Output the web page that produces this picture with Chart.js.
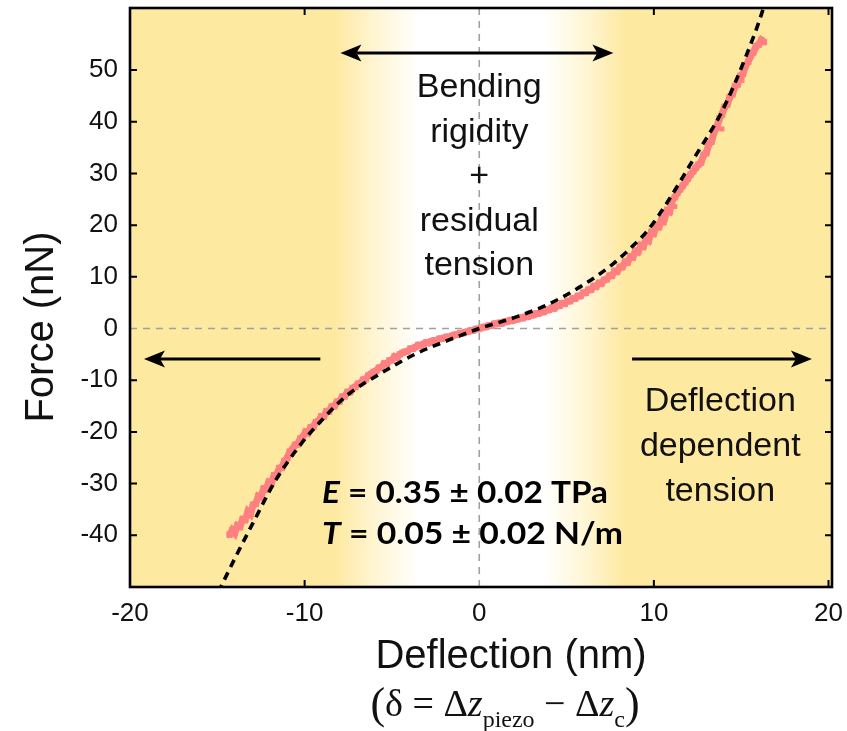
<!DOCTYPE html>
<html>
<head>
<meta charset="utf-8">
<script src="https://cdn.jsdelivr.net/npm/chart.js@4.4.1/dist/chart.umd.min.js"></script>
<style>
  html, body { margin: 0; padding: 0; background: #fff; }
  #wrap { width: 847px; height: 731px; }
</style>
</head>
<body>
<div id="wrap"><canvas id="chart" width="847" height="731"></canvas></div>
<script>
// tick labels
const xTicks = [-20, -10, 0, 10, 20];
const yTicks = [-40, -30, -20, -10, 0, 10, 20, 30, 40, 50];

// measured force curve (deflection nm, force nN)
const measuredX = [
  -14.3, -14.15, -14.0, -13.85, -13.7, -13.55, -13.4, -13.25, -13.1, -12.95, -12.8, -12.65, -12.5, -12.35,
  -12.2, -12.05, -11.9, -11.75, -11.6, -11.45, -11.3, -11.15, -11.0, -10.85, -10.7, -10.55, -10.4, -10.25,
  -10.1, -9.95, -9.8, -9.65, -9.5, -9.35, -9.2, -9.05, -8.9, -8.75, -8.6, -8.45, -8.3, -8.15, -8.0, -7.85,
  -7.7, -7.55, -7.4, -7.25, -7.1, -6.95, -6.8, -6.65, -6.5, -6.35, -6.2, -6.05, -5.9, -5.75, -5.6, -5.45,
  -5.3, -5.15, -5.0, -4.85, -4.7, -4.55, -4.4, -4.25, -4.1, -3.95, -3.8, -3.65, -3.5, -3.35, -3.2, -3.05,
  -2.9, -2.75, -2.6, -2.45, -2.3, -2.15, -2.0, -1.85, -1.7, -1.55, -1.4, -1.25, -1.1, -0.95, -0.8, -0.65,
  -0.5, -0.35, -0.2, -0.05,
  0.1, 0.25, 0.4, 0.55, 0.7, 0.85, 1.0, 1.15, 1.3, 1.45, 1.6, 1.75, 1.9, 2.05, 2.2, 2.35, 2.5, 2.65, 2.8,
  2.95, 3.1, 3.25, 3.4, 3.55, 3.7, 3.85, 4.0, 4.15, 4.3, 4.45, 4.6, 4.75, 4.9, 5.05, 5.2, 5.35, 5.5, 5.65,
  5.8, 5.95, 6.1, 6.25, 6.4, 6.55, 6.7, 6.85, 7.0, 7.15, 7.3, 7.45, 7.6, 7.75, 7.9, 8.05, 8.2, 8.35, 8.5,
  8.65, 8.8, 8.95, 9.1, 9.25, 9.4, 9.55, 9.7, 9.85, 10.0, 10.15, 10.3, 10.45, 10.6, 10.75, 10.9, 11.05,
  11.2, 11.35, 11.5, 11.65, 11.8, 11.95, 12.1, 12.25, 12.4, 12.55, 12.7, 12.85, 13.0, 13.15, 13.3, 13.45,
  13.6, 13.75, 13.9, 14.05, 14.2, 14.35, 14.5, 14.65, 14.8, 14.95, 15.1, 15.25, 15.4, 15.55, 15.7, 15.85,
  16.0, 16.15, 16.3
];
const measuredF = [
  -39.9, -39.0, -39.6, -38.1, -38.3, -36.9, -37.0, -35.4, -35.9, -34.1, -33.9, -32.4, -32.6, -31.0,
  -31.1, -29.7, -29.9, -28.4, -28.3, -27.0, -26.9, -25.6, -25.1, -23.8, -23.4, -22.5, -22.4, -21.3,
  -21.0, -20.0, -20.2, -19.1, -19.0, -18.1, -17.9, -17.0, -17.0, -16.0, -16.0, -15.1, -15.0, -14.2, -14.1, -13.2,
  -13.1, -12.3, -12.3, -11.5, -11.3, -10.7, -10.6, -9.9, -9.8, -9.1, -8.8, -8.4, -8.2, -7.6, -7.5, -6.8,
  -6.9, -6.2, -6.1, -5.4, -5.6, -5.0, -4.7, -4.5, -4.4, -3.9, -3.9, -3.6, -3.2, -3.3, -3.0, -2.7,
  -2.8, -2.5, -2.3, -2.4, -2.0, -2.0, -1.8, -1.6, -1.7, -1.4, -1.2, -1.2, -0.9, -0.9, -0.7, -0.6,
  -0.4, -0.4, -0.1, -0.1,
  0.1, 0.3, 0.3, 0.6, 0.6, 0.9, 0.9, 1.1, 1.0, 1.3, 1.3, 1.6, 1.5, 1.8, 1.8, 2.1, 2.0, 2.3, 2.3,
  2.6, 2.6, 2.9, 2.9, 3.2, 3.2, 3.6, 3.6, 4.0, 3.9, 4.4, 4.4, 4.9, 4.8, 5.3, 5.3, 5.8, 5.8, 6.3,
  6.3, 6.9, 6.9, 7.5, 7.5, 8.2, 8.1, 8.8, 8.7, 9.4, 9.5, 10.2, 10.2, 11.1, 11.0, 11.9, 11.9, 12.9, 12.8,
  13.9, 13.8, 15.0, 14.8, 16.1, 15.9, 17.3, 17.0, 18.6, 18.4, 19.9, 19.7, 21.3, 21.2, 22.8, 22.6, 24.8,
  25.4, 26.3, 26.9, 27.6, 28.3, 29.0, 29.8, 30.4, 31.1, 31.7, 32.1, 33.6, 33.9, 35.7, 36.1, 38.0,
  38.9, 40.6, 41.4, 42.9, 43.3, 44.8, 45.3, 46.9, 47.2, 48.9, 49.2, 50.9, 51.6, 52.8, 53.4, 54.6,
  54.9, 55.8, 55.4
];
// a few scattered readings beside the main band
const strayX = [10.6, 11.2, 13.9, 15.05];
const strayF = [20.4, 23.6, 38.6, 48.0];

// fitted model (dashed)
const fitX = [-14.95, -14.7, -14.0, -13.0, -11.7, -10.2, -8.9, -7.6, -5.6, -3.7, -1.8, 0, 2.0, 3.9, 5.8, 7.7, 8.8, 9.6, 10.5, 12.4, 13.9, 15.3, 16.2, 16.35];
const fitF = [-51.0, -49.3, -44.5, -37.9, -29.6, -22.3, -17.3, -13.0, -8.6, -5.0, -2.3, 0, 2.1, 4.6, 8.1, 12.6, 16.0, 18.8, 23.0, 33.5, 42.0, 52.9, 61.2, 63.0];

const YELLOW = 'rgb(254, 233, 160)';
const PINK = 'rgb(255, 128, 128)';
const SANS = '"Liberation Sans", Arial, Helvetica, sans-serif';
const SERIF = '"Liberation Serif", "Times New Roman", serif';

const toPoints = (xs, ys) => xs.map((x, i) => ({ x: x, y: ys[i] }));

// annotations
const arrows = [
  { from: [-7.95, 53.3], to: [7.68, 53.3], both: true },
  { from: [-9.1, -5.9], to: [-19.2, -5.9], both: false },
  { from: [8.75, -5.9], to: [19.05, -5.9], both: false }
];
const centerNote = { x: 0, lines: ['Bending', 'rigidity', '+', 'residual', 'tension'], baselines: [97, 141.5, 186, 230.5, 275] };
const rightNote = { x: 13.8, lines: ['Deflection', 'dependent', 'tension'], baselines: [411, 456, 501] };

function arrowHead(ctx, tx, ty, dir) {
  const L = 21, W = 8.5, notch = 5;
  ctx.beginPath();
  ctx.moveTo(tx, ty);
  ctx.lineTo(tx - dir * L, ty - W);
  ctx.lineTo(tx - dir * (L - notch), ty);
  ctx.lineTo(tx - dir * L, ty + W);
  ctx.closePath();
  ctx.fill();
}

function drawArrow(ctx, x1, y1, x2, y2, both) {
  const dir = x2 > x1 ? 1 : -1;
  ctx.save();
  ctx.strokeStyle = '#000';
  ctx.fillStyle = '#000';
  ctx.lineWidth = 3;
  ctx.beginPath();
  ctx.moveTo(both ? x1 + dir * 16 : x1, y1);
  ctx.lineTo(x2 - dir * 16, y2);
  ctx.stroke();
  arrowHead(ctx, x2, y2, dir);
  if (both) arrowHead(ctx, x1, y1, -dir);
  ctx.restore();
}

// draws a row of text pieces centered on cx
function drawPieces(ctx, pieces, cx, baseline) {
  let w = 0;
  pieces.forEach(p => { ctx.font = p.font; p.w = ctx.measureText(p.t).width; w += p.w; });
  let x = cx - w / 2;
  ctx.textAlign = 'left';
  ctx.textBaseline = 'alphabetic';
  pieces.forEach(p => {
    ctx.font = p.font;
    ctx.fillText(p.t, x, baseline + (p.dy || 0));
    x += p.w;
  });
}

const paperPlugin = {
  id: 'paper',
  beforeDraw(chart) {
    const { ctx, chartArea: a, scales: { x } } = chart;
    const stop = v => (x.getPixelForValue(v) - a.left) / (a.right - a.left);
    const g = ctx.createLinearGradient(a.left, 0, a.right, 0);
    g.addColorStop(0, YELLOW);
    g.addColorStop(stop(-8.3), YELLOW);
    g.addColorStop(stop(-5.8), 'rgb(255, 246, 214)');
    g.addColorStop(stop(-3.4), '#ffffff');
    g.addColorStop(stop(3.7), '#ffffff');
    g.addColorStop(stop(6.0), 'rgb(255, 246, 214)');
    g.addColorStop(stop(8.4), YELLOW);
    g.addColorStop(1, YELLOW);
    ctx.save();
    ctx.fillStyle = g;
    ctx.fillRect(a.left, a.top, a.right - a.left, a.bottom - a.top);
    ctx.restore();
  },
  beforeDatasetsDraw(chart) {
    const { ctx, chartArea: a, scales: { x, y } } = chart;
    ctx.save();
    ctx.strokeStyle = 'rgb(160, 160, 160)';
    ctx.lineWidth = 1.6;
    ctx.setLineDash([7, 6]);
    const x0 = x.getPixelForValue(0), y0 = y.getPixelForValue(0);
    ctx.beginPath();
    ctx.moveTo(x0, a.top); ctx.lineTo(x0, a.bottom);
    ctx.moveTo(a.left, y0); ctx.lineTo(a.right, y0);
    ctx.stroke();
    ctx.restore();
  },
  afterDatasetsDraw(chart) {
    const { ctx, chartArea: a, scales: { x, y } } = chart;
    ctx.save();
    ctx.strokeStyle = '#000';
    ctx.lineWidth = 2;
    const t = 7;
    ctx.beginPath();
    xTicks.forEach(v => {
      if (v === 0 || v === x.min) return;
      const px = x.getPixelForValue(v);
      ctx.moveTo(px, a.bottom); ctx.lineTo(px, a.bottom - t);
      ctx.moveTo(px, a.top); ctx.lineTo(px, a.top + t);
    });
    yTicks.forEach(v => {
      if (v === 0) return;
      const py = y.getPixelForValue(v);
      ctx.moveTo(a.left, py); ctx.lineTo(a.left + t, py);
      ctx.moveTo(a.right, py); ctx.lineTo(a.right - t, py);
    });
    ctx.stroke();
    ctx.lineWidth = 2.6;
    ctx.strokeRect(a.left, a.top, a.right - a.left, a.bottom - a.top);
    ctx.restore();
  },
  afterDraw(chart) {
    const { ctx, scales: { x, y } } = chart;
    ctx.save();
    ctx.fillStyle = '#111';

    arrows.forEach(ar => {
      drawArrow(ctx, x.getPixelForValue(ar.from[0]), y.getPixelForValue(ar.from[1]),
        x.getPixelForValue(ar.to[0]), y.getPixelForValue(ar.to[1]), ar.both);
    });

    ctx.textAlign = 'center';
    ctx.textBaseline = 'alphabetic';
    ctx.font = '34px ' + SANS;
    centerNote.lines.forEach((s, i) => ctx.fillText(s, x.getPixelForValue(centerNote.x), centerNote.baselines[i]));
    rightNote.lines.forEach((s, i) => ctx.fillText(s, x.getPixelForValue(rightNote.x), rightNote.baselines[i]));

    // fit parameters
    const bold = 'bold 31px Lato, ' + SANS;
    const boldIt = 'italic bold 31px Lato, ' + SANS;
    const rowE = [{ t: 'E', font: boldIt }, { t: ' = 0.35 \u00b1 0.02 TPa', font: bold }];
    const rowT = [{ t: 'T', font: boldIt }, { t: ' = 0.05 \u00b1 0.02 N/m', font: bold }];
    ctx.fillStyle = '#000';
    [[rowE, 503, 286], [rowT, 544, 301]].forEach(([row, base, target]) => {
      let w = 0;
      row.forEach(p => { ctx.font = p.font; w += ctx.measureText(p.t).width; });
      const sx = target / w;
      ctx.save();
      ctx.translate(322, 0);
      ctx.scale(sx, 1);
      drawPieces(ctx, row, w / 2, base);
      ctx.restore();
    });

    // axis titles
    ctx.fillStyle = '#111';
    ctx.textAlign = 'center';
    ctx.font = '40px ' + SANS;
    ctx.fillText('Deflection (nm)', 511, 668);
    ctx.save();
    ctx.translate(53, 327);
    ctx.rotate(-Math.PI / 2);
    ctx.fillText('Force (nN)', 0, 0);
    ctx.restore();

    const big = '44px ' + SERIF, mid = '38px ' + SERIF, itz = 'italic 38px ' + SERIF, sub = '24px ' + SERIF;
    drawPieces(ctx, [
      { t: '(', font: big, dy: 2 },
      { t: '\u03b4 = \u0394', font: mid },
      { t: 'z', font: itz },
      { t: 'piezo', font: sub, dy: 11 },
      { t: ' \u2212 \u0394', font: mid },
      { t: 'z', font: itz },
      { t: 'c', font: sub, dy: 11 },
      { t: ')', font: big, dy: 2 }
    ], 505, 716);
    ctx.restore();
  }
};

new Chart(document.getElementById('chart'), {
  type: 'scatter',
  data: {
    datasets: [
      {
        label: 'fit',
        data: toPoints(fitX, fitF),
        showLine: true,
        borderColor: '#000',
        borderWidth: 3.6,
        borderDash: [8, 6],
        pointRadius: 0,
        cubicInterpolationMode: 'monotone',
        order: 0
      },
      {
        label: 'measured',
        data: toPoints(measuredX, measuredF),
        showLine: true,
        borderColor: PINK,
        borderWidth: 7,
        backgroundColor: PINK,
        pointBackgroundColor: PINK,
        pointBorderWidth: 0,
        pointStyle: 'rect',
        pointRadius: 4.5,
        order: 1
      },
      {
        label: 'stray',
        data: toPoints(strayX, strayF),
        showLine: false,
        pointBackgroundColor: PINK,
        pointBorderWidth: 0,
        pointStyle: 'rect',
        pointRadius: 3.5,
        order: 2
      }
    ]
  },
  options: {
    responsive: false,
    animation: false,
    events: [],
    layout: { padding: { left: 0, right: 15, top: 8, bottom: 0 } },
    plugins: { legend: { display: false }, tooltip: { enabled: false } },
    scales: {
      x: {
        type: 'linear',
        min: -20,
        max: 20.2,
        afterBuildTicks: s => { s.ticks = xTicks.map(v => ({ value: v })); },
        afterFit: s => { s.height = 144; s.paddingLeft = 0; s.paddingRight = 0; },
        grid: { display: false, drawTicks: false },
        border: { display: false },
        ticks: { color: '#111', font: { family: SANS, size: 26 }, padding: 11, maxRotation: 0, autoSkip: false }
      },
      y: {
        type: 'linear',
        min: -50,
        max: 62,
        afterBuildTicks: s => { s.ticks = yTicks.map(v => ({ value: v })); },
        afterFit: s => { s.width = 130; s.paddingTop = 0; s.paddingBottom = 0; },
        grid: { display: false, drawTicks: false },
        border: { display: false },
        ticks: { color: '#111', font: { family: SANS, size: 26 }, padding: 12, autoSkip: false }
      }
    }
  },
  plugins: [paperPlugin]
});
</script>
</body>
</html>
